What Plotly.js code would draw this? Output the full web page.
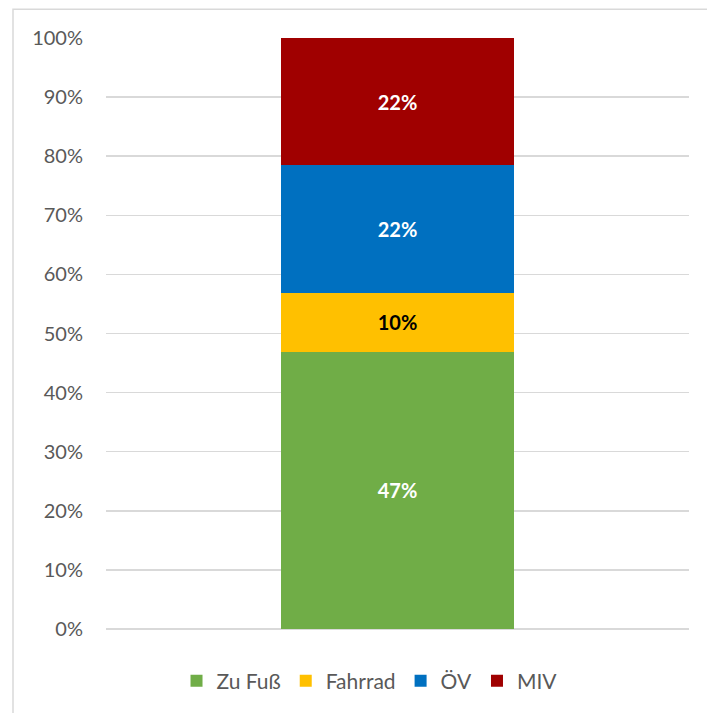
<!DOCTYPE html>
<html>
<head>
<meta charset="utf-8">
<script src="https://cdn.plot.ly/plotly-3.0.1.min.js"></script>
<style>
html,body{margin:0;padding:0;background:#fff;}
#chart{width:707px;height:713px;}
</style>
</head>
<body>
<div id="chart"></div>
<script>
// Data (percent shares)
const categories = ["Gesamt"];
const seriesNames = ["Zu Fuß", "Fahrrad", "ÖV", "MIV"];
const zuFuss = [46.9];
const fahrrad = [10.0];
const oev = [21.6];
const miv = [21.5];
const seriesValues = [zuFuss, fahrrad, oev, miv];
const seriesColors = ["#70AD47", "#FFC000", "#0070C0", "#A00000"];
const labelColors = ["#FFFFFF", "#000000", "#FFFFFF", "#FFFFFF"];
const yTickVals = [0,10,20,30,40,50,60,70,80,90,100];
const yTickText = ["0%","10%","20%","30%","40%","50%","60%","70%","80%","90%","100%"];

const FONT = "Lato, Carlito, Calibri, 'Open Sans', sans-serif";

const traces = seriesNames.map((name, i) => ({
  type: "bar",
  name: name,
  x: categories,
  y: seriesValues[i],
  width: 0.4,
  marker: {color: seriesColors[i], line: {width: 0}},
  texttemplate: "%{y:.0f}%",
  textposition: "inside",
  insidetextanchor: "middle",
  textangle: 0,
  constraintext: "none",
  textfont: {family: FONT, size: 20, color: labelColors[i], weight: "bold"},
  hoverinfo: "skip"
}));

const layout = {
  width: 707,
  height: 713,
  margin: {l: 106, r: 18, t: 38, b: 84},
  paper_bgcolor: "#FFFFFF",
  plot_bgcolor: "#FFFFFF",
  barmode: "stack",
  showlegend: true,
  hovermode: false,
  font: {family: FONT, size: 20, color: "#595959"},
  xaxis: {
    type: "category",
    range: [-0.5, 0.5],
    showticklabels: false,
    showgrid: false,
    zeroline: false,
    showline: false,
    ticks: "",
    fixedrange: true
  },
  yaxis: {
    range: [0, 100],
    tickmode: "array",
    tickvals: yTickVals,
    ticktext: yTickText,
    showgrid: true,
    gridcolor: "#D9D9D9",
    gridwidth: 1.5,
    zeroline: true,
    zerolinecolor: "#D9D9D9",
    zerolinewidth: 1.5,
    showline: false,
    ticks: "",
    ticklabelstandoff: 22,
    tickfont: {family: FONT, size: 20, color: "#595959"},
    fixedrange: true
  },
  legend: {
    orientation: "h",
    traceorder: "normal",
    x: 0.452,
    xanchor: "center",
    y: -0.088,
    yanchor: "middle",
    font: {family: FONT, size: 21, color: "#595959"},
    itemwidth: 30,
    itemclick: false,
    itemdoubleclick: false
  },
  shapes: [{
    type: "rect",
    xref: "paper", yref: "paper",
    x0: -0.1595, x1: 1.3,
    y0: -0.5, y1: 1.0485,
    line: {color: "#D9D9D9", width: 1.5},
    fillcolor: "rgba(0,0,0,0)",
    layer: "below"
  }]
};

Plotly.newPlot("chart", traces, layout, {displayModeBar: false, staticPlot: true});
</script>
</body>
</html>
